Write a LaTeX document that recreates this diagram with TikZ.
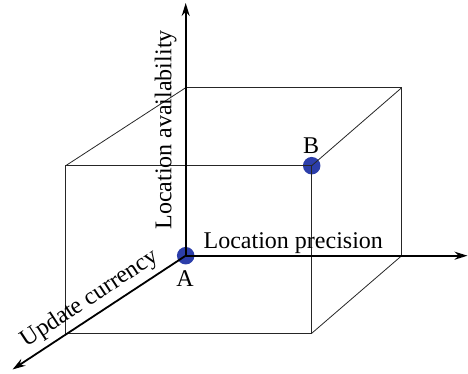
\documentclass[tikz,border=0pt]{standalone}
\usepackage{fontspec}
\setmainfont{Liberation Serif}
\usetikzlibrary{arrows.meta}
\definecolor{dotblue}{RGB}{44,62,170}
\begin{document}
\begin{tikzpicture}[x=1pt,y=-1pt,
  axis/.style={line width=1.8pt,-{Stealth[length=13pt,width=8pt]}},
  edge/.style={line width=0.8pt,black!85},
  lbl/.style={font=\fontsize{24}{28}\selectfont,inner sep=0pt},
  dot/.style={circle,fill=dotblue,minimum size=17.5pt,inner sep=0pt}]
\useasboundingbox (0,0) rectangle (468,374);
% cube corners
\coordinate (A) at (185.7,255.7);
\coordinate (btl) at (185.7,87.7);
\coordinate (btr) at (401.7,87.7);
\coordinate (bbr) at (401.7,255.7);
\coordinate (ftl) at (65.7,165.7);
\coordinate (ftr) at (311.7,165.7);
\coordinate (fbr) at (311.7,333.3);
\coordinate (fbl) at (65.7,333.3);
% axis ends
\coordinate (ytip) at (185.7,3);
\coordinate (xtip) at (467.5,255.7);
\coordinate (ztip) at (12.5,369.5);
% dots
\node[dot] (dA) at (A) {};
\node[dot] (dB) at (ftr) {};
% cube edges
\draw[edge] (btl) -- (btr) -- (bbr);
\draw[edge] (ftl) -- (ftr) -- (fbr) -- (fbl) -- cycle;
\draw[edge] (btl) -- (ftl);
\draw[edge] (btr) -- (ftr);
\draw[edge] (bbr) -- (fbr);
% axes
\draw[axis] (A) -- (ytip);
\draw[axis] (A) -- (xtip);
\draw[axis] (A) -- (ztip);
% labels
\node[lbl,rotate=90] (ly) at (165.7,130) {Location availability};
\node[lbl,anchor=base] (lx) at (293.3,248) {Location precision};
\node[lbl,rotate=33.3] (lz) at (90,299) {Update currency};
\node[lbl,anchor=base] (la) at (185,286) {A};
\node[lbl,anchor=base] (lb) at (311,154) {B};
\end{tikzpicture}
\end{document}
